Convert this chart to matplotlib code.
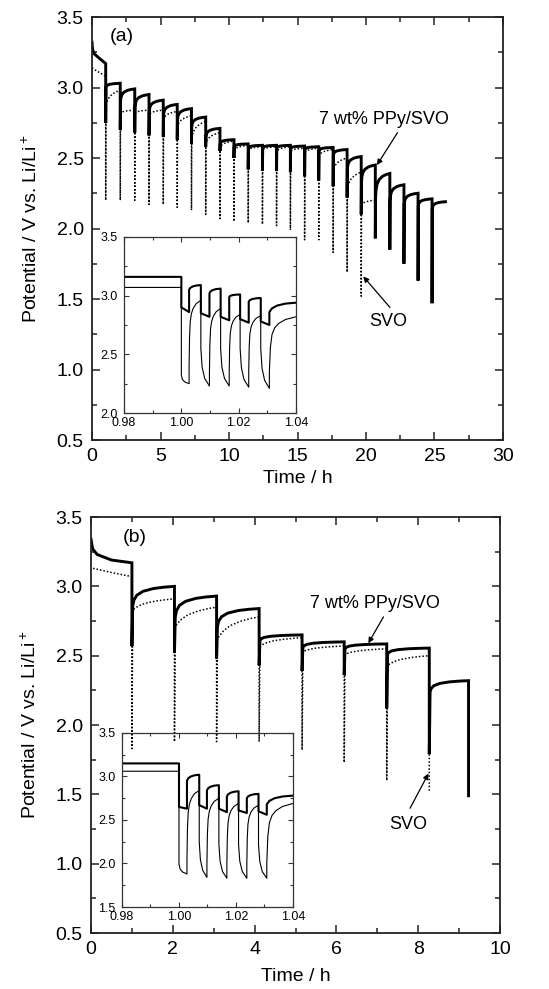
import numpy as np
import matplotlib
matplotlib.use('Agg')
import matplotlib.pyplot as plt
from matplotlib.ticker import MultipleLocator, FormatStrFormatter

plt.rcParams['font.family'] = ['Liberation Sans', 'DejaVu Sans']
plt.rcParams['mathtext.fontset'] = 'custom'
plt.rcParams['mathtext.rm'] = 'Liberation Sans'
plt.rcParams['mathtext.it'] = 'Liberation Sans:italic'

# ---------------- Panel (a) main data ----------------
a_pulse_t = [1.00, 2.06, 3.12, 4.16, 5.20, 6.22, 7.26, 8.30, 9.34, 10.36, 11.40, 12.44,
             13.47, 14.48, 15.52, 16.55, 17.60, 18.62, 19.65, 20.68, 21.74, 22.77, 23.80, 24.82]
a_ppy_init_t = [0.0, 0.04, 0.15, 0.5]
a_ppy_init_v = [3.32, 3.27, 3.24, 3.21]
a_ppy_peak = [3.17, 3.03, 2.99, 2.95, 2.91, 2.88, 2.85, 2.79, 2.71, 2.63, 2.60, 2.59,
              2.59, 2.59, 2.585, 2.58, 2.575, 2.56, 2.51, 2.45, 2.39, 2.31, 2.25, 2.21]
a_ppy_min = [2.75, 2.70, 2.68, 2.66, 2.65, 2.63, 2.60, 2.58, 2.55, 2.50, 2.42, 2.41,
             2.41, 2.40, 2.37, 2.34, 2.30, 2.22, 2.10, 1.93, 1.85, 1.75, 1.63, 1.47]
a_ppy_start = [3.00, 2.90, 2.86, 2.83, 2.80, 2.77, 2.72, 2.65, 2.60, 2.58, 2.57, 2.57,
               2.57, 2.565, 2.56, 2.55, 2.52, 2.42, 2.33, 2.22, 2.20, 2.17, 2.16, 2.14]
a_ppy_end_t, a_ppy_end_v = 25.8, 2.19

a_svo_init_t = [0.0, 0.3]
a_svo_init_v = [3.14, 3.12]
a_svo_peak = [3.08, 2.98, 2.84, 2.84, 2.84, 2.83, 2.80, 2.76, 2.68, 2.62, 2.59, 2.58,
              2.58, 2.58, 2.57, 2.57, 2.56, 2.50, 2.40]
a_svo_min = [2.20, 2.20, 2.20, 2.17, 2.17, 2.15, 2.13, 2.10, 2.07, 2.05, 2.04, 2.03,
             2.02, 1.99, 1.92, 1.92, 1.83, 1.69, 1.52]
a_svo_start = [2.88, 2.82, 2.82, 2.81, 2.78, 2.73, 2.65, 2.61, 2.58, 2.56, 2.56, 2.56,
               2.55, 2.55, 2.54, 2.52, 2.42, 2.29, 2.17]
a_svo_end_t, a_svo_end_v = 20.6, 2.20

# ---------------- Panel (b) main data ----------------
b_pulse_t = [1.00, 2.04, 3.07, 4.11, 5.16, 6.19, 7.23, 8.27]
b_ppy_init_t = [0.0, 0.04, 0.15, 0.5]
b_ppy_init_v = [3.34, 3.27, 3.23, 3.19]
b_ppy_peak = [3.17, 3.00, 2.93, 2.84, 2.65, 2.60, 2.585, 2.555]
b_ppy_min = [2.57, 2.52, 2.48, 2.43, 2.39, 2.36, 2.12, 1.79]
b_ppy_start = [2.86, 2.78, 2.71, 2.61, 2.56, 2.55, 2.51, 2.24]
b_ppy_end_t, b_ppy_end_v, b_ppy_cut_v = 9.23, 2.32, 1.49

b_svo_init_t = [0.05, 0.5]
b_svo_init_v = [3.13, 3.10]
b_svo_peak = [3.07, 2.91, 2.85, 2.78, 2.63, 2.57, 2.55, 2.50]
b_svo_min = [1.83, 1.88, 1.88, 1.88, 1.82, 1.73, 1.60, 1.52]
b_svo_start = [2.83, 2.71, 2.62, 2.57, 2.53, 2.51, 2.43]

# recovery shapes (fraction of interval -> fraction of rise)
ppy_prof_t = [0, 0.03, 0.1, 0.25, 0.5, 0.75, 1.0]
ppy_prof_v = [0, 0.3, 0.55, 0.75, 0.89, 0.96, 1.0]
svo_prof_t = [0, 0.05, 0.15, 0.3, 0.55, 0.8, 1.0]
svo_prof_v = [0, 0.15, 0.38, 0.6, 0.8, 0.93, 1.0]

# ---------------- Inset data (a) ----------------
ia_on = [1.0000, 1.0068, 1.0137, 1.0205, 1.0277]
ia_off = [1.0027, 1.0098, 1.0167, 1.0235, 1.0307]
ia_ppy_pre = 3.16
ia_ppy_ptop = [2.90, 2.85, 2.82, 2.80, 2.78]
ia_ppy_pbot = [2.86, 2.82, 2.79, 2.77, 2.75]
ia_ppy_rstart = [3.05, 3.02, 2.99, 2.95, 2.86]
ia_ppy_rend = [3.09, 3.06, 3.01, 2.98, 2.94]
ia_svo_pre = 3.07
ia_svo_ptop = [2.32, 2.55, 2.55, 2.55, 2.55]
ia_svo_pbot = [2.25, 2.23, 2.23, 2.22, 2.21]
ia_svo_rstart = [2.40, 2.35, 2.35, 2.35, 2.35]
ia_svo_rend = [2.96, 2.89, 2.84, 2.83, 2.82]

# ---------------- Inset data (b) ----------------
ib_on = [1.0000, 1.0071, 1.0140, 1.0209, 1.0279]
ib_off = [1.0028, 1.0098, 1.0168, 1.0238, 1.0308]
ib_ppy_pre = 3.15
ib_ppy_ptop = [2.65, 2.67, 2.63, 2.61, 2.60]
ib_ppy_pbot = [2.63, 2.63, 2.59, 2.58, 2.56]
ib_ppy_rstart = [2.95, 2.84, 2.77, 2.75, 2.68]
ib_ppy_rend = [3.02, 2.90, 2.83, 2.80, 2.78]
ib_svo_pre = 3.06
ib_svo_ptop = [1.99, 2.25, 2.22, 2.22, 2.22]
ib_svo_pbot = [1.88, 1.84, 1.83, 1.83, 1.83]
ib_svo_rstart = [2.05, 2.00, 2.00, 2.00, 2.00]
ib_svo_rend = [2.84, 2.75, 2.69, 2.67, 2.69]

ins_ppy_pulse_t = [0, 1.0]
ins_ppy_pulse_v = [0, 1.0]
ins_svo_pulse_t = [0, 0.15, 0.45, 1.0]
ins_svo_pulse_v = [0, 0.5, 0.8, 1.0]
ins_ppy_rec_t = [0, 0.1, 0.3, 0.6, 1.0]
ins_ppy_rec_v = [0, 0.4, 0.7, 0.9, 1.0]
ins_svo_rec_t = [0, 0.04, 0.1, 0.2, 0.35, 0.6, 1.0]
ins_svo_rec_v = [0, 0.45, 0.68, 0.8, 0.88, 0.95, 1.0]


def main_series(init_t, init_v, pulse_t, peak, vmin, start, end_t, end_v,
                prof_t, prof_v, cut_v=None):
    t = list(init_t)
    v = list(init_v)
    pt = np.array(prof_t)
    pv = np.array(prof_v)
    for k in range(len(peak)):
        tp = pulse_t[k]
        t += [tp, tp]
        v += [peak[k], vmin[k]]
        if k < len(start):
            last = (k + 1 >= len(peak))
            t_next = end_t if last else pulse_t[k + 1]
            v_next = end_v if last else peak[k + 1]
            st = tp + 0.02 + pt * (t_next - tp - 0.02)
            sv = start[k] + pv * (v_next - start[k])
            if last:
                t += list(st)
                v += list(sv)
            else:
                t += list(st[:-1])
                v += list(sv[:-1])
    if cut_v is not None:
        t += [end_t]
        v += [cut_v]
    return np.array(t), np.array(v)


def inset_series(pre, on, off, ptop, pbot, rstart, rend, pul_t, pul_v, rec_t, rec_v,
                 x0=0.98, x1=1.04):
    t = [x0, on[0]]
    v = [pre, pre]
    pt, pv = np.array(pul_t), np.array(pul_v)
    rt, rv = np.array(rec_t), np.array(rec_v)
    for k in range(len(on)):
        t += list(on[k] + pt * (off[k] - on[k]))
        v += list(ptop[k] + pv * (pbot[k] - ptop[k]))
        tn = on[k + 1] if k + 1 < len(on) else x1
        t += list(off[k] + rt * (tn - off[k]))
        v += list(rstart[k] + rv * (rend[k] - rstart[k]))
    return np.array(t), np.array(v)


fig = plt.figure(figsize=(5.49, 9.89), dpi=100)
fig.patch.set_facecolor('white')

ax_a = fig.add_axes([0.1676, 0.5551, 0.7486, 0.4277])
ax_b = fig.add_axes([0.1658, 0.0566, 0.7450, 0.4206])
in_a = fig.add_axes([0.2259, 0.5824, 0.3133, 0.1780])
in_b = fig.add_axes([0.2222, 0.0829, 0.3115, 0.1760])

ppy_lw = 2.1
svo_style = dict(color='black', lw=1.1, linestyle=(0, (1.0, 1.3)))

# panel a curves
t, v = main_series(a_svo_init_t, a_svo_init_v, a_pulse_t, a_svo_peak, a_svo_min,
                   a_svo_start, a_svo_end_t, a_svo_end_v, svo_prof_t, svo_prof_v)
ax_a.plot(t, v, **svo_style)
t, v = main_series(a_ppy_init_t, a_ppy_init_v, a_pulse_t, a_ppy_peak, a_ppy_min,
                   a_ppy_start, a_ppy_end_t, a_ppy_end_v, ppy_prof_t, ppy_prof_v)
ax_a.plot(t, v, color='black', lw=ppy_lw, solid_joinstyle='miter')

# panel b curves
t, v = main_series(b_svo_init_t, b_svo_init_v, b_pulse_t, b_svo_peak, b_svo_min,
                   b_svo_start, None, None, svo_prof_t, svo_prof_v)
ax_b.plot(t, v, **svo_style)
t, v = main_series(b_ppy_init_t, b_ppy_init_v, b_pulse_t, b_ppy_peak, b_ppy_min,
                   b_ppy_start, b_ppy_end_t, b_ppy_end_v, ppy_prof_t, ppy_prof_v,
                   cut_v=b_ppy_cut_v)
ax_b.plot(t, v, color='black', lw=ppy_lw, solid_joinstyle='miter')

# insets
t, v = inset_series(ia_ppy_pre, ia_on, ia_off, ia_ppy_ptop, ia_ppy_pbot, ia_ppy_rstart,
                    ia_ppy_rend, ins_ppy_pulse_t, ins_ppy_pulse_v, ins_ppy_rec_t, ins_ppy_rec_v)
in_a.plot(t, v, color='black', lw=1.5)
t, v = inset_series(ia_svo_pre, ia_on, ia_off, ia_svo_ptop, ia_svo_pbot, ia_svo_rstart,
                    ia_svo_rend, ins_svo_pulse_t, ins_svo_pulse_v, ins_svo_rec_t, ins_svo_rec_v)
in_a.plot(t, v, color='black', lw=0.8)

t, v = inset_series(ib_ppy_pre, ib_on, ib_off, ib_ppy_ptop, ib_ppy_pbot, ib_ppy_rstart,
                    ib_ppy_rend, ins_ppy_pulse_t, ins_ppy_pulse_v, ins_ppy_rec_t, ins_ppy_rec_v)
in_b.plot(t, v, color='black', lw=1.5)
t, v = inset_series(ib_svo_pre, ib_on, ib_off, ib_svo_ptop, ib_svo_pbot, ib_svo_rstart,
                    ib_svo_rend, ins_svo_pulse_t, ins_svo_pulse_v, ins_svo_rec_t, ins_svo_rec_v)
in_b.plot(t, v, color='black', lw=0.8)

# main axes styling
for ax, xmax, xmaj, xmin_, xl in [(ax_a, 30, 5, 2.5, -0.072), (ax_b, 10, 2, 1, -0.085)]:
    ax.set_xlim(0, xmax)
    ax.set_ylim(0.5, 3.5)
    ax.xaxis.set_major_locator(MultipleLocator(xmaj))
    ax.xaxis.set_minor_locator(MultipleLocator(xmin_))
    ax.yaxis.set_major_locator(MultipleLocator(0.5))
    ax.yaxis.set_minor_locator(MultipleLocator(0.25))
    ax.yaxis.set_major_formatter(FormatStrFormatter('%.1f'))
    ax.tick_params(which='both', direction='in', top=True, right=True, labelsize=14,
                   width=1.1, color='#222222')
    ax.tick_params(which='major', length=6, pad=6)
    ax.tick_params(which='minor', length=3.5)
    for s in ax.spines.values():
        s.set_linewidth(1.3)
        s.set_color('#222222')
    ax.set_xlabel('Time / h', fontsize=14)
    ax.set_ylabel('Potential / V vs. Li/Li$^+$', fontsize=14)
    ax.xaxis.set_label_coords(0.5, xl)
    ax.yaxis.set_label_coords(-0.125, 0.5)

for ax, ymin in [(in_a, 2.0), (in_b, 1.5)]:
    ax.patch.set_alpha(0.0)
    ax.set_xlim(0.98, 1.04)
    ax.set_ylim(ymin, 3.5)
    ax.xaxis.set_major_locator(MultipleLocator(0.02))
    ax.xaxis.set_minor_locator(MultipleLocator(0.01))
    ax.yaxis.set_major_locator(MultipleLocator(0.5))
    ax.yaxis.set_minor_locator(MultipleLocator(0.25))
    ax.xaxis.set_major_formatter(FormatStrFormatter('%.2f'))
    ax.yaxis.set_major_formatter(FormatStrFormatter('%.1f'))
    ax.tick_params(which='both', direction='in', top=True, right=True, labelsize=9,
                   width=0.8, color='#333333')
    ax.tick_params(axis='x', which='major', pad=3.0)
    ax.tick_params(axis='y', which='major', pad=4.5)
    ax.tick_params(which='major', length=3.5)
    ax.tick_params(which='minor', length=2)
    for s in ax.spines.values():
        s.set_linewidth(0.9)
        s.set_color('#333333')

# annotations
ax_a.text(1.3, 3.36, '(a)', fontsize=14, va='center', ha='left')
ax_b.text(0.78, 3.35, '(b)', fontsize=14, va='center', ha='left')

arrow = dict(arrowstyle='-|>', color='black', lw=0.9, mutation_scale=8, shrinkA=0, shrinkB=0)
ax_a.text(16.6, 2.77, '7 wt% PPy/SVO', fontsize=13, va='center', ha='left')
ax_a.annotate('', xy=(20.8, 2.45), xytext=(22.3, 2.68), arrowprops=arrow)
ax_a.text(21.6, 1.34, 'SVO', fontsize=13, va='center', ha='center')
ax_a.annotate('', xy=(19.8, 1.66), xytext=(21.75, 1.44), arrowprops=arrow)

ax_b.text(5.35, 2.88, '7 wt% PPy/SVO', fontsize=13, va='center', ha='left')
ax_b.annotate('', xy=(6.78, 2.59), xytext=(7.15, 2.78), arrowprops=arrow)
ax_b.text(7.76, 1.28, 'SVO', fontsize=13, va='center', ha='center')
ax_b.annotate('', xy=(8.25, 1.65), xytext=(7.8, 1.40), arrowprops=arrow)

fig.savefig('out.png', dpi=100, facecolor='white')
